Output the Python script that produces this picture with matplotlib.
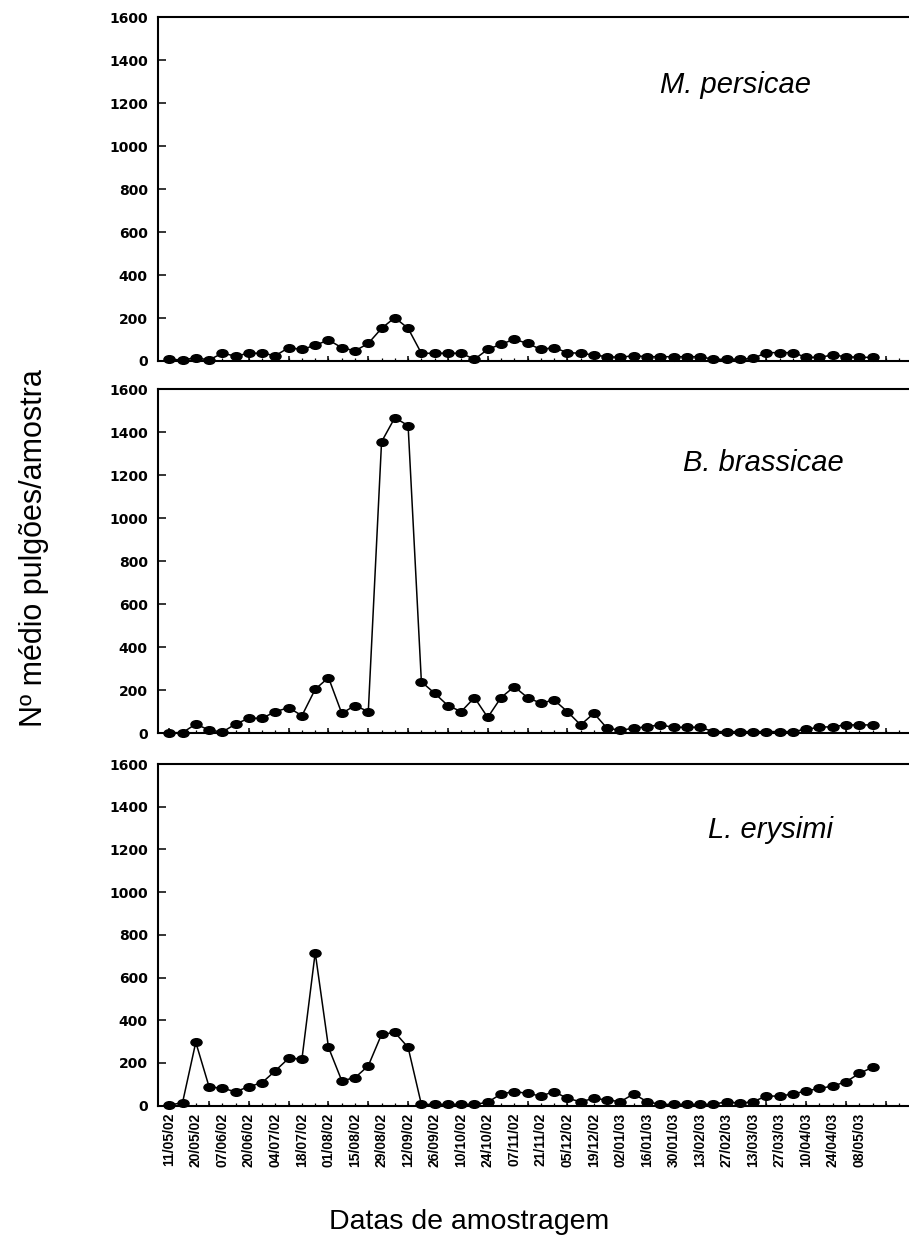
import numpy as np
import matplotlib
matplotlib.use('Agg')
import matplotlib.pyplot as plt
from matplotlib.path import Path

# sampling dates (every second sample is labelled)
date_labels = ['11/05/02', '20/05/02', '07/06/02', '20/06/02', '04/07/02', '18/07/02',
               '01/08/02', '15/08/02', '29/08/02', '12/09/02', '26/09/02', '10/10/02',
               '24/10/02', '07/11/02', '21/11/02', '05/12/02', '19/12/02', '02/01/03',
               '16/01/03', '30/01/03', '13/02/03', '27/02/03', '13/03/03', '27/03/03',
               '10/04/03', '24/04/03', '08/05/03']

# mean number of aphids per sample
m_persicae = [8, 5, 15, 5, 36, 23, 36, 36, 25, 62, 54, 73, 98, 62, 47, 82, 152, 202, 152, 36,
              36, 36, 36, 8, 54, 78, 101, 82, 54, 62, 39, 36, 28, 20, 17, 25, 20, 20, 20, 20,
              20, 8, 8, 8, 12, 39, 39, 39, 17, 17, 28, 20, 17, 17]
b_brassicae = [3, 3, 43, 15, 6, 43, 70, 70, 101, 119, 82, 205, 259, 93, 129, 101, 1356, 1468, 1431, 240,
               186, 129, 101, 166, 74, 166, 217, 166, 140, 155, 101, 39, 93, 23, 15, 23, 31, 39, 28, 28,
               28, 8, 8, 8, 8, 8, 8, 8, 19, 28, 31, 39, 39, 39]
l_erysimi = [3, 14, 297, 89, 81, 66, 89, 108, 164, 222, 219, 717, 273, 117, 131, 187, 334, 343, 273, 6,
             6, 6, 6, 6, 16, 55, 66, 58, 45, 66, 34, 19, 34, 27, 19, 55, 19, 6, 6, 6,
             6, 6, 19, 11, 19, 45, 45, 55, 69, 81, 92, 112, 151, 180]

species = ['M. persicae', 'B. brassicae', 'L. erysimi']
series = [m_persicae, b_brassicae, l_erysimi]

W, H = 909, 1240
fig = plt.figure(figsize=(W / 100, H / 100), dpi=100)

# ellipse marker (wider than tall)
circ = Path.unit_circle()
ellipse = Path(circ.vertices * np.array([1.45, 1.0]), circ.codes)

x = np.arange(len(m_persicae))
xmin, xmax = -0.87, 56.0
left = 157.7 / W
width = (xmax - xmin) * 13.27 / W

# panel (top px, bottom px)
panels = [(17.3, 361.0), (389.3, 733.3), (764.0, 1105.7)]
label_pos = [(735, 92.7), (763, 471), (770, 837.7)]

for i, (vals, name) in enumerate(zip(series, species)):
    top, bot = panels[i]
    ax = fig.add_axes([left, 1 - bot / H, width, (bot - top) / H])
    ax.plot(x, vals, color='black', lw=1.1, marker=ellipse, ms=8,
            mfc='black', mec='black', clip_on=False, zorder=3)
    ax.set_xlim(xmin, xmax)
    ax.set_ylim(0, 1600)
    ax.set_yticks(np.arange(0, 1601, 200))
    ax.xaxis.remove_overlapping_locs = False
    ax.set_xticks(np.arange(0, 56, 3))
    ax.set_xticklabels([])
    ax.spines['right'].set_visible(False)
    for s in ['left', 'top', 'bottom']:
        ax.spines[s].set_linewidth(1.5)
    ax.tick_params(axis='y', direction='in', length=5.8, width=1.1, pad=7.2,
                   labelsize=10)
    ax.tick_params(axis='x', which='major', direction='in', length=3.8, width=1.1)
    ax.tick_params(axis='x', which='minor', direction='in', length=2.2, width=0.9)
    for lab in ax.get_yticklabels():
        lab.set_fontfamily('DejaVu Sans')
        lab.set_fontweight('bold')
    ax.set_xticks(np.arange(0, 56, 1), minor=True)
    if i == 2:
        # labels on every second sample
        lbls = []
        for k in range(56):
            lbls.append(date_labels[k // 2] if k % 2 == 0 and k // 2 < len(date_labels) else '')
        ax.set_xticklabels(lbls, minor=True, rotation=90,
                           fontfamily='Liberation Sans', fontweight='bold', fontsize=10)
        ax.tick_params(axis='x', which='minor', pad=5)
    lx, ly = label_pos[i]
    fig.text(lx / W, 1 - ly / H, name, ha='center', va='baseline',
             fontfamily='Liberation Sans', style='italic', fontsize=21)

fig.text(34 / W, 1 - 548 / H, 'Nº médio pulgões/amostra', rotation=90,
         ha='center', va='center', fontfamily='Liberation Sans', fontsize=22)
fig.text(469 / W, 1 - 1229 / H, 'Datas de amostragem', ha='center', va='baseline',
         fontfamily='Liberation Sans', fontsize=20.5)

fig.savefig('out.png', dpi=100)
